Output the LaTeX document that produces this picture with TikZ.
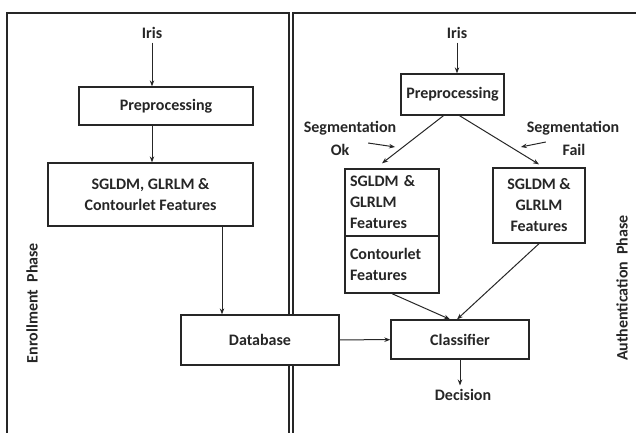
\documentclass[tikz,border=0pt]{standalone}
\usepackage{fontspec}
\setmainfont{Carlito}
\usetikzlibrary{arrows.meta,positioning}

\begin{document}
\begin{tikzpicture}[x=1pt,y=-1pt,
    font=\bfseries\fontsize{16}{21}\selectfont,
    line width=1pt, draw=black!85, text=black!85,
    >={Stealth[length=6pt,width=4.5pt]},
    box/.style={draw, fill=white, inner sep=0pt, line width=1.3pt},
    phase/.style={rotate=90}]
  \useasboundingbox (0,0) rectangle (636,432);

  % the two phase panels
  \draw[line width=1.3pt] (7,436) -- (7,13) -- (289,13) -- (289,436);
  \draw[line width=1.3pt] (293,436) -- (293,13) -- (640,13);
  \node[phase] (enroll) at (32,303) {Enrollment\ \ Phase};
  \node[phase] (auth) at (622,288) {Authentication\ \ Phase};

  % enrollment
  \node (irisL) at (152,33) {Iris};
  \node[box, minimum width=174, minimum height=38] (preL) at (166,106) {Preprocessing};
  \node[box, minimum width=205, minimum height=63, align=center] (featL) at (150.5,194.5)
    {SGLDM, GLRLM \&\\Contourlet Features};
  \node[box, minimum width=158, minimum height=50] (db) at (260,340) {Database};
  \coordinate (dbin) at (222,0);

  \draw[->] (irisL) -- (irisL |- preL.north);
  \draw[->] (irisL |- preL.south) -- (irisL |- featL.north);
  \draw[->] (dbin |- featL.south) -- (dbin |- db.north);

  % authentication
  \node (irisR) at (457,33) {Iris};
  \node[box, minimum width=103, minimum height=41] (preR) at (452.5,94.5) {Preprocessing};
  \node[box, minimum width=94, minimum height=67, text width=84, align=left] (featOk) at (392,202.5)
    {SGLDM \&\\GLRLM\\Features};
  \node[box, minimum width=94, minimum height=57, text width=84, align=left] (contOk) at (392,264.5)
    {Contourlet\\Features};
  \node[box, minimum width=92, minimum height=75, align=center] (featFail) at (539,205.5)
    {SGLDM \&\\GLRLM\\Features};
  \node[box, minimum width=138, minimum height=39] (cls) at (460,339.5) {Classifier};
  \node (dec) at (463,395) {Decision};

  \node (segok) at (350,128) {Segmentation};
  \node (ok) at (340,150) {Ok};
  \node (segfail) at (573,128) {Segmentation};
  \node (fail) at (574,150) {Fail};

  \draw[->] (irisR) -- (irisR |- preR.north);
  \draw[->] ([xshift=-9pt]preR.south) -- ([xshift=-10pt,yshift=5pt]featOk.north);
  \draw[->] ([xshift=7pt]preR.south) -- ([yshift=3pt]featFail.north);
  \draw[->] ([shift={(15,-7)}]ok.east) -- ++(27,4);
  \draw[->] ([shift={(-13,-8)}]fail.west) -- ++(-25,5);
  \draw[->] (contOk.south) -- ([xshift=-10pt]cls.north);
  \draw[->] (featFail.south) -- ([xshift=-3pt]cls.north);
  \draw[->] (db) -- (cls);
  \draw[->] (cls.south) -- (cls.south |- dec.north);
\end{tikzpicture}
\end{document}
